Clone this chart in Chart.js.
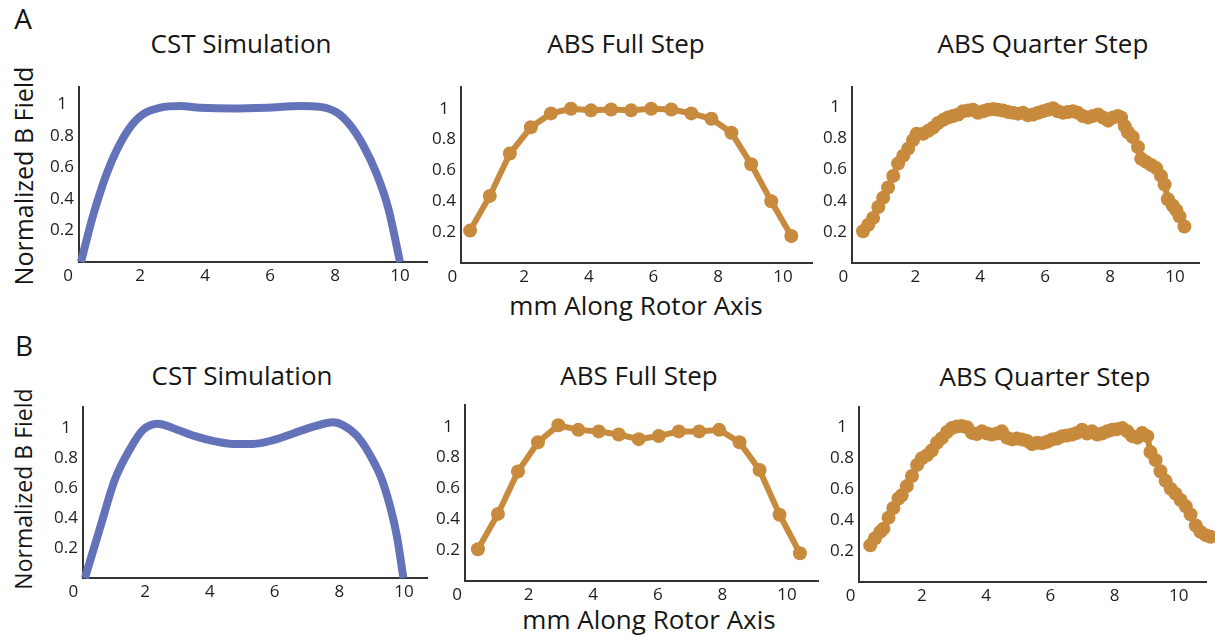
<!DOCTYPE html>
<html>
<head>
<meta charset="utf-8">
<script src="https://cdn.jsdelivr.net/npm/chart.js@4.4.1/dist/chart.umd.min.js"></script>
<style>
  body { margin:0; background:#fff; width:1215px; height:636px; position:relative; overflow:hidden;
         font-family:'Open Sans', sans-serif; color:#151515; }
  canvas { position:absolute; }
  .t { position:absolute; white-space:nowrap; line-height:1; transform:translateX(-50%); }
  .title { font-size:26px; }
  .letter { font-size:28px; }
  .ylab { position:absolute; white-space:nowrap; line-height:1; transform:translate(-50%,-50%) rotate(-90deg); }
</style>
</head>
<body>
<div class="t letter" style="left:23px;top:4px">A</div>
<div class="t letter" style="left:24px;top:331px">B</div>

<div class="t title" style="left:241px;top:30px">CST Simulation</div>
<div class="t title" style="left:626px;top:30px">ABS Full Step</div>
<div class="t title" style="left:1043px;top:30px">ABS Quarter Step</div>
<div class="t title" style="left:242px;top:362px">CST Simulation</div>
<div class="t title" style="left:639px;top:362px">ABS Full Step</div>
<div class="t title" style="left:1045px;top:363px">ABS Quarter Step</div>

<div class="ylab" style="left:23px;top:176px;font-size:25px">Normalized B Field</div>
<div class="ylab" style="left:23px;top:489px;font-size:23px">Normalized B Field</div>

<div class="t title" style="left:636px;top:292px">mm Along Rotor Axis</div>
<div class="t title" style="left:649px;top:606px">mm Along Rotor Axis</div>

<script>
// tick labels
const xTickLabels = ['0', '2', '4', '6', '8', '10'];
const yTickLabels = ['0', '0.2', '0.4', '0.6', '0.8', '1'];

// A - CST simulation
const cstAX = [0.18, 0.56, 0.97, 1.28, 1.69, 2.1, 2.62, 3.23, 3.85, 4.87, 5.9, 6.92, 7.54, 8.05, 8.46, 8.87, 9.28, 9.64, 10.0];
const cstAY = [0, 0.30, 0.56, 0.71, 0.855, 0.94, 0.98, 0.99, 0.98, 0.975, 0.98, 0.99, 0.985, 0.95, 0.87, 0.74, 0.56, 0.34, 0];

// A - ABS full step
const fullAX = [0.33, 0.94, 1.56, 2.21, 2.83, 3.45, 4.07, 4.69, 5.31, 5.93, 6.55, 7.17, 7.79, 8.41, 9.02, 9.64, 10.26];
const fullAY = [0.21, 0.435, 0.71, 0.88, 0.97, 1.0, 0.99, 0.995, 0.99, 1.0, 0.995, 0.97, 0.935, 0.845, 0.64, 0.40, 0.175];

// A - ABS quarter step
const quarterAX = [0.39, 0.55, 0.70, 0.86, 1.01, 1.16, 1.32, 1.47, 1.63, 1.78, 1.93, 2.04, 2.24, 2.40, 2.55, 2.70, 2.86, 3.01, 3.16, 3.32,
  3.47, 3.63, 3.78, 3.93, 4.09, 4.24, 4.40, 4.55, 4.70, 4.86, 5.01, 5.16, 5.32, 5.47, 5.63, 5.78, 5.93, 6.09, 6.24, 6.39,
  6.55, 6.70, 6.86, 7.01, 7.16, 7.32, 7.47, 7.63, 7.78, 7.94, 8.09, 8.24, 8.34, 8.45, 8.55, 8.70, 8.86, 8.96, 9.11, 9.27,
  9.42, 9.57, 9.68, 9.78, 9.93, 10.04, 10.14, 10.29];
const quarterAY = [0.204, 0.246, 0.29, 0.36, 0.42, 0.485, 0.56, 0.64, 0.69, 0.735, 0.79, 0.83, 0.83, 0.85, 0.87, 0.90, 0.92, 0.935, 0.945, 0.955,
  0.975, 0.98, 0.985, 0.965, 0.975, 0.985, 0.99, 0.985, 0.98, 0.97, 0.965, 0.96, 0.965, 0.95, 0.955, 0.965, 0.975, 0.985, 0.995, 0.975,
  0.965, 0.97, 0.975, 0.965, 0.945, 0.935, 0.945, 0.955, 0.935, 0.915, 0.935, 0.945, 0.935, 0.88, 0.84, 0.81, 0.745, 0.67, 0.65, 0.63,
  0.61, 0.56, 0.505, 0.41, 0.37, 0.34, 0.30, 0.235];

// B - CST simulation
const cstBX = [0.14, 0.6, 1.07, 1.53, 1.94, 2.4, 2.87, 3.49, 4.1, 4.72, 5.34, 5.96, 6.58, 7.2, 7.81, 8.12, 8.54, 8.95, 9.36, 9.77, 9.98];
const cstBY = [0, 0.33, 0.66, 0.86, 0.99, 1.03, 1.0, 0.95, 0.915, 0.895, 0.895, 0.92, 0.965, 1.01, 1.04, 1.02, 0.95, 0.82, 0.63, 0.29, 0];

// B - ABS full step
const fullBX = [0.43, 1.05, 1.67, 2.29, 2.92, 3.54, 4.17, 4.79, 5.41, 6.03, 6.65, 7.28, 7.9, 8.53, 9.15, 9.77, 10.4];
const fullBY = [0.206, 0.435, 0.71, 0.90, 1.01, 0.98, 0.97, 0.95, 0.92, 0.94, 0.97, 0.97, 0.98, 0.90, 0.72, 0.43, 0.18];

// B - ABS quarter step
const quarterBX = [0.39, 0.54, 0.70, 0.80, 0.96, 1.11, 1.27, 1.37, 1.53, 1.69, 1.85, 2.0, 2.16, 2.31, 2.47, 2.62, 2.78, 2.93, 3.09, 3.24,
  3.40, 3.56, 3.71, 3.87, 4.03, 4.18, 4.34, 4.49, 4.65, 4.81, 4.96, 5.12, 5.28, 5.43, 5.59, 5.74, 5.90, 6.06, 6.21, 6.37,
  6.52, 6.68, 6.83, 6.99, 7.15, 7.30, 7.46, 7.61, 7.77, 7.93, 8.08, 8.24, 8.40, 8.55, 8.71, 8.86, 9.02, 9.12, 9.28, 9.43,
  9.59, 9.75, 9.90, 10.06, 10.22, 10.37, 10.53, 10.68, 10.84, 10.99, 11.15];
const quarterBY = [0.237, 0.283, 0.324, 0.345, 0.416, 0.478, 0.54, 0.56, 0.62, 0.685, 0.757, 0.80, 0.82, 0.85, 0.90, 0.93, 0.97, 0.995, 1.005, 1.009,
  1.0, 0.964, 0.957, 0.974, 0.96, 0.953, 0.96, 0.974, 0.933, 0.922, 0.927, 0.922, 0.912, 0.891, 0.90, 0.897, 0.906, 0.922, 0.927, 0.943,
  0.947, 0.953, 0.964, 0.984, 0.96, 0.974, 0.953, 0.96, 0.974, 0.984, 0.988, 0.995, 0.974, 0.943, 0.933, 0.964, 0.943, 0.84, 0.788, 0.716,
  0.654, 0.603, 0.571, 0.53, 0.489, 0.437, 0.365, 0.324, 0.303, 0.293, 0.24];

const BLUE = '#6473b9';
const ORANGE = '#c88a3d';
const INK = '#1e1e1e';
const YW = 45, XH = 32, PT = 8;

// plot-area rectangles (left, top, width, height) and axis extents per panel
const panels = [
  { xs: cstAX,     ys: cstAY,     kind: 'cst',     L: 79,  T: 80,  W: 348, H: 182, xMin: 0.12, xMax: 10.83, yMax: 1.11, pr: 12 },
  { xs: fullAX,    ys: fullAY,    kind: 'full',    L: 461, T: 80,  W: 351, H: 183, xMin: 0.05, xMax: 10.9,  yMax: 1.14, pr: 12 },
  { xs: quarterAX, ys: quarterAY, kind: 'quarter', L: 852, T: 80,  W: 347, H: 183, xMin: 0.05, xMax: 10.74, yMax: 1.13, pr: 12 },
  { xs: cstBX,     ys: cstBY,     kind: 'cst',     L: 83,  T: 400, W: 344, H: 178, xMin: 0.08, xMax: 10.71, yMax: 1.14, pr: 12 },
  { xs: fullBX,    ys: fullBY,    kind: 'full',    L: 465, T: 398, W: 353, H: 183, xMin: 0.03, xMax: 10.96, yMax: 1.14, pr: 12 },
  { xs: quarterBX, ys: quarterBY, kind: 'quarter', L: 859, T: 400, W: 347, H: 182, xMin: 0.04, xMax: 10.85, yMax: 1.13, pr: 20 }
];

// "0" sits below-left of the origin, shared by both axes
const originLabel = {
  id: 'originLabel',
  afterDraw(chart) {
    const { ctx, chartArea } = chart;
    const xs = chart.scales.x;
    ctx.save();
    ctx.font = '17px "Open Sans"';
    ctx.fillStyle = INK;
    ctx.textAlign = 'center';
    ctx.textBaseline = 'middle';
    ctx.fillText(xTickLabels[0], xs.getPixelForValue(0) - 7, chartArea.bottom + 14);
    ctx.restore();
  }
};

const tickFont = { family: 'Open Sans', size: 17 };

panels.forEach(p => {
  const cv = document.createElement('canvas');
  cv.width = YW + p.W + p.pr;
  cv.height = PT + p.H + XH;
  cv.style.left = (p.L - YW) + 'px';
  cv.style.top = (p.T - PT) + 'px';
  document.body.appendChild(cv);

  const isCst = p.kind === 'cst';
  const color = isCst ? BLUE : ORANGE;

  new Chart(cv, {
    type: 'line',
    data: {
      datasets: [{
        data: p.xs.map((x, i) => ({ x: x, y: p.ys[i] })),
        borderColor: color,
        backgroundColor: color,
        borderWidth: isCst ? 8 : 6,
        pointRadius: isCst ? 0 : 7,
        pointBorderWidth: 0,
        pointHoverRadius: 0,
        cubicInterpolationMode: isCst ? 'monotone' : 'default',
        tension: 0,
        clip: false
      }]
    },
    options: {
      responsive: false,
      animation: false,
      devicePixelRatio: 1,
      events: [],
      layout: { padding: { top: PT, right: p.pr, left: 0, bottom: 0 } },
      plugins: { legend: { display: false }, tooltip: { enabled: false } },
      scales: {
        x: {
          type: 'linear',
          min: p.xMin,
          max: p.xMax,
          afterFit: s => { s.height = XH; },
          grid: { display: false, drawTicks: false },
          border: { display: true, color: '#333', width: 2 },
          ticks: {
            stepSize: 2, includeBounds: false, autoSkip: false, maxRotation: 0,
            padding: 4, color: INK, font: tickFont,
            callback: v => xTickLabels[Math.round(v / 2)]
          }
        },
        y: {
          type: 'linear',
          min: 0,
          max: p.yMax,
          afterFit: s => { s.width = YW; },
          grid: { display: false, drawTicks: false },
          border: { display: true, color: '#333', width: 2 },
          ticks: {
            stepSize: 0.2, includeBounds: false, autoSkip: false,
            crossAlign: 'center', padding: 5, color: INK, font: tickFont,
            callback: v => (v === 0 ? '' : yTickLabels[Math.round(v * 5)])
          }
        }
      }
    },
    plugins: [originLabel]
  });
});
</script>
</body>
</html>
